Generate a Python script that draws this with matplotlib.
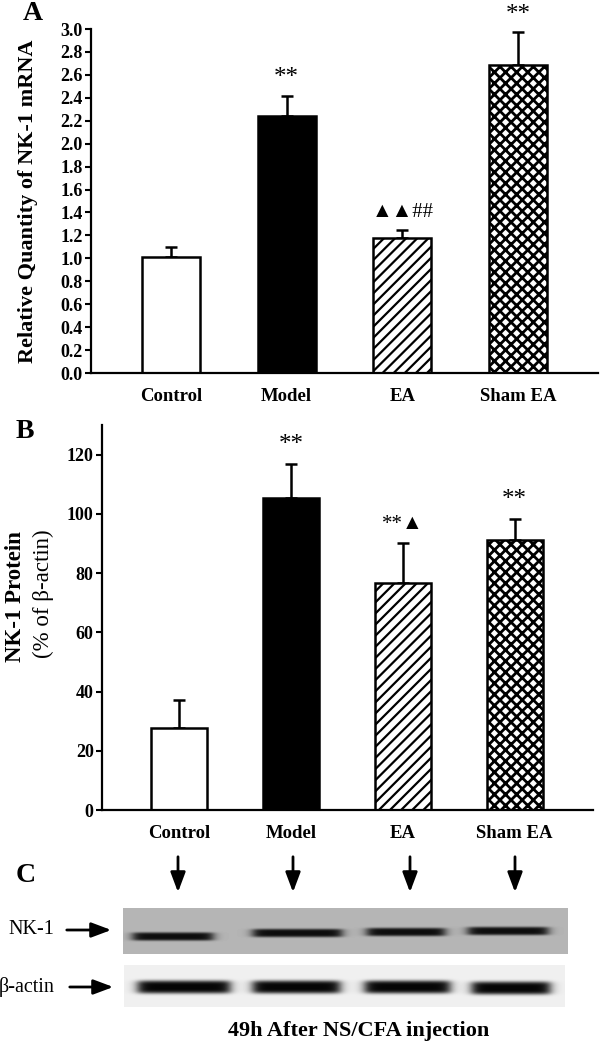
import matplotlib.pyplot as plt
import numpy as np

plt.rcParams['font.family'] = ['Liberation Serif', 'DejaVu Sans']

groups = ['Control', 'Model', 'EA', 'Sham EA']
mrna = [1.01, 2.24, 1.18, 2.69]
mrna_err = [0.09, 0.18, 0.07, 0.28]
mrna_marks = ['', '**', '\u25B2\u25B2##', '**']
protein = [27.6, 105.5, 76.7, 91.3]
protein_err = [9.7, 11.4, 13.3, 6.9]
protein_marks = ['', '**', '**\u25B2', '**']

fills = ['white', 'black', 'white', 'white']
hatches = [None, None, '///', 'xxx']
hatch_lw = [1.0, 1.0, 1.6, 2.0]

# western blot lanes (pixel space of the figure)
lane_x = [178, 293, 410, 515]
nk1_band = [(133, 213, 936.5), (253, 342, 933), (367, 445, 932), (468, 548, 931)]
actin_band = [(138, 230, 987), (253, 340, 987), (365, 450, 987), (472, 550, 988)]

fig = plt.figure(figsize=(6, 10.44), dpi=100)


def bars(ax, vals, errs, marks, off):
    x = np.arange(len(vals))
    for i in range(len(vals)):
        with plt.rc_context({'hatch.linewidth': hatch_lw[i]}):
            ax.bar(x[i], vals[i], width=0.5, color=fills[i], edgecolor='black',
                   linewidth=1.8, hatch=hatches[i], zorder=2)
    ax.errorbar(x, vals, yerr=[np.zeros(len(errs)), errs], fmt='none',
                ecolor='black', elinewidth=1.8, capsize=4.5, capthick=1.8, zorder=1)
    for i in range(len(vals)):
        if marks[i]:
            sz = 18 if marks[i] == '**' else 15
            ax.text(x[i], vals[i] + errs[i] + off, marks[i], ha='center', va='center',
                    fontsize=sz, clip_on=False)
    ax.set_xticks(x)
    ax.set_xticklabels(groups, fontsize=13.5, fontweight='bold')
    ax.tick_params(axis='x', length=0, pad=11)
    ax.tick_params(axis='y', direction='out', length=4, width=1.5, pad=2)
    for s in ['top', 'right']:
        ax.spines[s].set_visible(False)
    for s in ['left', 'bottom']:
        ax.spines[s].set_linewidth(1.6)


# panel A
axA = fig.add_axes([0.1517, 0.6427, 0.845, 0.3295])
bars(axA, mrna, mrna_err, mrna_marks, 0.15)
axA.set_ylim(0, 3.0)
axA.set_xlim(-0.69, 3.69)
axA.set_yticks(np.arange(0, 3.01, 0.2))
axA.set_yticklabels(['%.1f' % v for v in np.arange(0, 3.01, 0.2)], fontweight='bold', fontsize=13)
axA.set_ylabel('Relative Quantity of NK-1 mRNA', fontsize=16, fontweight='bold')
axA.yaxis.set_label_coords(-0.105, 0.5)

# panel B
axB = fig.add_axes([0.17, 0.2241, 0.8183, 0.3688])
bars(axB, protein, protein_err, protein_marks, 6.5)
axB.set_ylim(0, 130)
axB.set_xlim(-0.69, 3.70)
axB.set_yticks(np.arange(0, 121, 20))
axB.set_yticklabels([str(v) for v in range(0, 121, 20)], fontweight='bold', fontsize=13)
fig.text(16 / 600, 1 - 597 / 1044, 'NK-1 Protein', rotation=90, ha='center', va='center',
         fontsize=16.5, fontweight='bold')
fig.text(43 / 600, 1 - 594 / 1044, '(% of \u03b2-actin)', rotation=90, ha='center', va='center',
         fontsize=16.5)

# overlay in pixel coordinates
ov = fig.add_axes([0, 0, 1, 1], zorder=-1)

ov.text(33, 14, 'A', fontsize=20, fontweight='bold', ha='center', va='center')
ov.text(25, 432, 'B', fontsize=20, fontweight='bold', ha='center', va='center')
ov.text(26, 876, 'C', fontsize=20, fontweight='bold', ha='center', va='center')


def blot(x0, x1, y0, y1, bg, bands, half_h, depth):
    xs = np.arange(x0, x1) + 0.5
    ys = np.arange(y0, y1) + 0.5
    X, Y = np.meshgrid(xs, ys)
    img = np.full(X.shape, bg)
    for (a, b, yc) in bands:
        px = 1 / (1 + np.exp(-(X - a) / 3.0)) / (1 + np.exp((X - b) / 3.0))
        py = np.exp(-((Y - yc) / half_h) ** 4)
        img = img - depth * px * py
    img = np.clip(img, 0, 1)
    ov.imshow(img, cmap='gray', vmin=0, vmax=1, extent=[x0, x1, y1, y0],
              interpolation='bilinear', aspect='auto')


blot(123, 568, 908, 954, 0.71, nk1_band, 4.2, 0.66)
blot(124, 565, 965, 1007, 0.94, actin_band, 6.5, 0.92)
ov.set_xlim(0, 600)
ov.set_ylim(1044, 0)
ov.axis('off')

arrow = dict(arrowstyle='-|>,head_width=0.45,head_length=1.2', color='black', lw=2)
for lx in lane_x:
    ov.annotate('', xy=(lx, 895), xytext=(lx, 854), arrowprops=arrow)
ov.annotate('', xy=(114, 930), xytext=(64, 930), arrowprops=arrow)
ov.annotate('', xy=(116, 987), xytext=(67, 987), arrowprops=arrow)
ov.text(31, 930, 'NK-1', fontsize=14.5, ha='center', va='center')
ov.text(27, 987, '\u03b2-actin', fontsize=14.5, ha='center', va='center')
ov.text(359, 1031, '49h After NS/CFA injection', fontsize=16, fontweight='bold',
        ha='center', va='center')

fig.savefig('out.png', dpi=100)
